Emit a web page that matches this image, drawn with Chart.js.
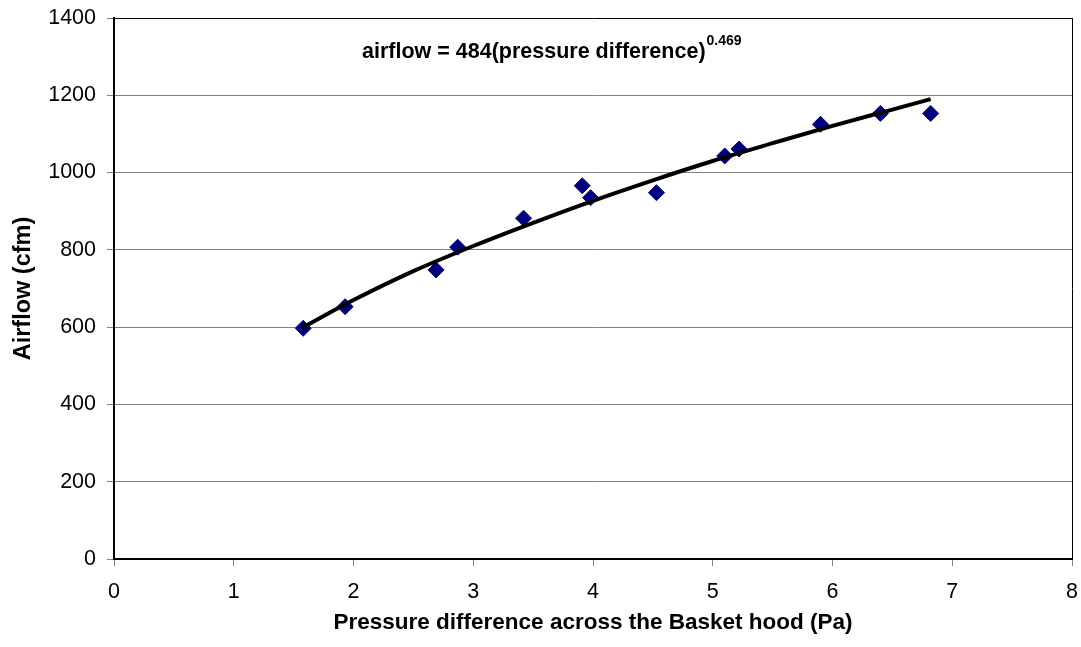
<!DOCTYPE html>
<html>
<head>
<meta charset="utf-8">
<script src="https://cdn.jsdelivr.net/npm/chart.js@4"></script>
<style>
    html, body { margin: 0; padding: 0; background: #fff; }
    #wrap { width: 1081px; height: 647px; }
</style>
</head>
<body>
<div id="wrap"><canvas id="airflowChart" width="1081" height="647"></canvas></div>
<script>
// measured points (pressure difference Pa, airflow cfm)
const pressure = [1.58, 1.93, 2.69, 2.87, 3.42, 3.91, 3.98, 4.53, 5.10, 5.22, 5.90, 6.40, 6.82];
const airflow  = [597, 653, 748, 807, 882, 966, 935, 948, 1043, 1061, 1125, 1153, 1153];

// trendline
const trendX = [1.57, 2, 2.5, 3, 3.5, 4, 4.5, 5, 5.5, 6, 6.5, 6.82];
const trendY = [598, 670, 745, 810, 870, 927, 980, 1030, 1076, 1121, 1163, 1190];

const xTicks = [0, 1, 2, 3, 4, 5, 6, 7, 8];
const yTicks = [0, 200, 400, 600, 800, 1000, 1200, 1400];

const equationText = 'airflow = 484(pressure difference)';
const equationExp = '0.469';

const FONT = '"Liberation Sans", Arial, sans-serif';

const framePlugin = {
    id: 'frame',
    beforeDatasetsDraw(chart) {
        const { ctx, chartArea } = chart;
        ctx.save();
        ctx.strokeStyle = '#000';
        ctx.lineWidth = 1;
        ctx.beginPath();
        ctx.moveTo(Math.round(chartArea.right) + 0.5, chartArea.top);
        ctx.lineTo(Math.round(chartArea.right) + 0.5, chartArea.bottom);
        ctx.stroke();
        ctx.restore();
    },
    afterDraw(chart) {
        const { ctx } = chart;
        ctx.save();
        ctx.fillStyle = '#000';
        ctx.textBaseline = 'alphabetic';
        ctx.font = 'bold 21.5px ' + FONT;
        const x0 = 362;
        ctx.fillText(equationText, x0, 58);
        const w = ctx.measureText(equationText).width;
        ctx.font = 'bold 14px ' + FONT;
        ctx.fillText(equationExp, x0 + w + 1, 45);
        ctx.restore();
    }
};

new Chart(document.getElementById('airflowChart'), {
    type: 'scatter',
    data: {
        datasets: [
            {
                label: 'Power fit',
                data: trendX.map((x, i) => ({ x: x, y: trendY[i] })),
                showLine: true,
                borderColor: '#000',
                borderWidth: 4,
                pointRadius: 0,
                cubicInterpolationMode: 'monotone',
                order: 0
            },
            {
                label: 'Airflow',
                data: pressure.map((x, i) => ({ x: x, y: airflow[i] })),
                pointStyle: 'rectRot',
                pointRadius: 8,
                backgroundColor: '#000080',
                borderColor: '#000080',
                borderWidth: 1,
                order: 1
            }
        ]
    },
    options: {
        responsive: false,
        animation: false,
        layout: { padding: { top: 18, right: 9, left: 0, bottom: 0 } },
        plugins: {
            legend: { display: false },
            tooltip: { enabled: false }
        },
        scales: {
            x: {
                type: 'linear',
                min: 0,
                max: 8,
                afterFit: (s) => { s.height = 88; s.paddingLeft = 0; s.paddingRight = 0; },
                afterBuildTicks: (s) => { s.ticks = xTicks.map(v => ({ value: v })); },
                grid: { drawOnChartArea: false, drawTicks: true, tickLength: 7, tickColor: '#808080' },
                border: { color: '#000', width: 2 },
                ticks: { color: '#000', padding: 13, font: { family: FONT, size: 21.5 }, callback: (v) => String(v) },
                title: {
                    display: true,
                    text: 'Pressure difference across the Basket hood (Pa)',
                    color: '#000',
                    font: { family: FONT, size: 22.5, weight: 'bold' },
                    padding: { top: 0, bottom: 11 }
                }
            },
            y: {
                type: 'linear',
                min: 0,
                max: 1400,
                afterFit: (s) => { s.width = 114; s.paddingTop = 0; s.paddingBottom = 0; },
                afterBuildTicks: (s) => { s.ticks = yTicks.map(v => ({ value: v })); },
                grid: {
                    color: (c) => (c.tick && c.tick.value === 1400 ? '#000' : '#808080'),
                    lineWidth: 1,
                    tickLength: 7,
                    tickColor: '#808080'
                },
                border: { color: '#000', width: 2 },
                ticks: { color: '#000', padding: 11, font: { family: FONT, size: 21.5 }, callback: (v) => String(v) },
                title: {
                    display: true,
                    text: 'Airflow (cfm)',
                    color: '#000',
                    font: { family: FONT, size: 23.5, weight: 'bold' },
                    padding: { top: 9, bottom: 0 }
                }
            }
        }
    },
    plugins: [framePlugin]
});
</script>
</body>
</html>
